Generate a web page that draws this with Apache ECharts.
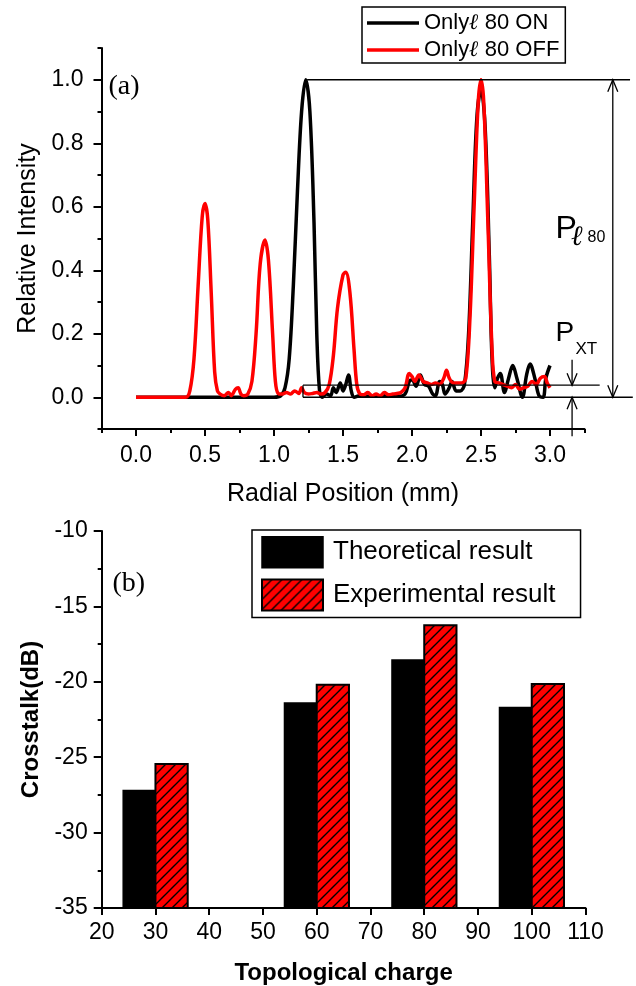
<!DOCTYPE html>
<html><head><meta charset="utf-8">
<script src="https://cdn.jsdelivr.net/npm/echarts@6/dist/echarts.min.js"></script>
<style>html,body{margin:0;padding:0;background:#fff}#c{width:636px;height:986px}</style>
</head><body><div id="c"></div>
<script>
// ---------- Panel (a) data: radial position (mm) vs relative intensity ----------
const onlyL80On = [
  [0,0],[0.5,0],[1.0,0],[1.05,0.005],[1.08,0.03],[1.11,0.12],[1.14,0.35],[1.17,0.65],[1.2,0.9],[1.23,1.0],
  [1.26,0.9],[1.29,0.55],[1.31,0.2],[1.33,0.02],[1.35,0.0],[1.38,0.01],[1.41,0.005],[1.43,0.03],[1.45,0.015],
  [1.48,0.045],[1.5,0.02],[1.52,0.04],[1.54,0.07],[1.56,0.02],[1.58,0.0],[1.62,0.005],[1.7,0.003],[1.8,0.005],
  [1.9,0.003],[1.95,0.01],[1.98,0.05],[2.0,0.055],[2.03,0.035],[2.06,0.07],[2.09,0.04],[2.12,0.035],[2.15,0.01],
  [2.17,0.005],[2.2,0.05],[2.22,0.04],[2.24,0.01],[2.27,0.03],[2.29,0.05],[2.32,0.02],[2.35,0.02],[2.38,0.04],
  [2.41,0.2],[2.44,0.55],[2.47,0.88],[2.5,0.97],[2.53,0.85],[2.56,0.45],[2.58,0.12],[2.6,0.03],[2.62,0.06],
  [2.64,0.075],[2.67,0.015],[2.7,0.06],[2.73,0.1],[2.76,0.06],[2.8,0.0],[2.83,0.07],[2.855,0.105],[2.89,0.06],
  [2.92,0.005],[2.95,0.0],[2.97,0.06],[3.0,0.1]
];
const onlyL80Off = [
  [0,0],[0.1,0],[0.2,0],[0.3,0],[0.36,0],[0.39,0.02],[0.42,0.12],[0.45,0.35],[0.48,0.57],[0.5,0.61],[0.52,0.56],
  [0.545,0.33],[0.57,0.08],[0.59,0.02],[0.61,0.01],[0.64,0.005],[0.67,0.015],[0.69,0.005],[0.72,0.025],[0.74,0.03],
  [0.76,0.01],[0.78,0.005],[0.81,0.01],[0.84,0.05],[0.87,0.2],[0.9,0.42],[0.935,0.495],[0.96,0.43],[0.99,0.2],
  [1.01,0.05],[1.03,0.012],[1.06,0.01],[1.09,0.015],[1.12,0.01],[1.15,0.02],[1.18,0.012],[1.2,0.03],[1.22,0.015],
  [1.25,0.01],[1.28,0.012],[1.31,0.015],[1.34,0.01],[1.37,0.015],[1.4,0.04],[1.43,0.13],[1.46,0.28],[1.5,0.385],
  [1.52,0.394],[1.55,0.33],[1.58,0.15],[1.6,0.04],[1.62,0.012],[1.65,0.008],[1.68,0.015],[1.71,0.005],[1.74,0.01],
  [1.77,0.005],[1.8,0.015],[1.83,0.008],[1.86,0.01],[1.89,0.012],[1.92,0.015],[1.95,0.03],[1.98,0.075],[2.0,0.065],
  [2.02,0.05],[2.05,0.07],[2.08,0.05],[2.11,0.045],[2.14,0.04],[2.17,0.045],[2.2,0.04],[2.23,0.06],[2.25,0.085],
  [2.27,0.06],[2.3,0.045],[2.33,0.045],[2.36,0.045],[2.39,0.06],[2.42,0.25],[2.45,0.6],[2.48,0.93],[2.5,1.0],
  [2.52,0.93],[2.55,0.55],[2.58,0.15],[2.6,0.05],[2.63,0.045],[2.66,0.04],[2.69,0.035],[2.72,0.03],[2.75,0.04],
  [2.78,0.025],[2.81,0.03],[2.84,0.035],[2.87,0.05],[2.9,0.04],[2.93,0.06],[2.96,0.065],[2.98,0.045],[3.0,0.03]
];
const xMajorA = [0, 0.5, 1, 1.5, 2, 2.5, 3];
const xMinorA = [-0.25, 0.25, 0.75, 1.25, 1.75, 2.25, 2.75, 3.25];
const yMajorA = [0, 0.2, 0.4, 0.6, 0.8, 1.0];
const yMinorA = [-0.1, 0.1, 0.3, 0.5, 0.7, 0.9, 1.1];
// annotation levels (data space)
const peakLevel = 1.0;
const xtLevel = 0.038;

// ---------- Panel (b) data: crosstalk vs topological charge ----------
const charges = [30, 60, 80, 100];
const theoretical = [-27.2, -21.4, -18.55, -21.7];
const experimental = [-25.45, -20.2, -16.25, -20.15];

// ---------- styling helpers ----------
const SANS = 'Liberation Sans, Arial, sans-serif';
const SERIF = 'Liberation Serif, Times New Roman, serif';
const Y2_MIN = -35, Y2_MAX = -10;
const BAR_UNITS = 6;
const LINE_ICON = 'path://M0,0L104,0L104,7L0,7Z';

function makeHatch() {
  const s = 10, c = document.createElement('canvas');
  c.width = s; c.height = s;
  const g = c.getContext('2d');
  g.fillStyle = '#ff0000'; g.fillRect(0, 0, s, s);
  g.strokeStyle = '#000'; g.lineWidth = 1.4;
  g.beginPath();
  g.moveTo(0, s); g.lineTo(s, 0);
  g.moveTo(-1, 1); g.lineTo(1, -1);
  g.moveTo(s - 1, s + 1); g.lineTo(s + 1, s - 1);
  g.stroke();
  return c;
}
const hatchFill = { image: makeHatch(), repeat: 'repeat' };

function barRenderer(side, fill, stroke, lw) {
  return function (params, api) {
    const x = api.value(0), v = api.value(1);
    const top = api.coord([x, v]);
    const base = api.coord([x, Y2_MIN]);
    const w = api.size([BAR_UNITS, 0])[0];
    const left = side < 0 ? top[0] - w : top[0];
    return {
      type: 'rect',
      shape: { x: left, y: top[1], width: w, height: base[1] - top[1] },
      style: { fill: fill, stroke: stroke, lineWidth: lw }
    };
  };
}

const axisLineStyle = { color: '#000', width: 2 };

const chart = echarts.init(document.getElementById('c'), null, { renderer: 'canvas' });
const option = {
  animation: false,
  backgroundColor: '#fff',
  grid: [
    { left: 101.5, top: 48, width: 483, height: 381 },
    { left: 101.7, top: 531, width: 483.8, height: 383 }
  ],
  legend: [
    {
      data: [
        { name: 'Only ON', icon: LINE_ICON, itemStyle: { color: '#000' } },
        { name: 'Only OFF', icon: LINE_ICON, itemStyle: { color: '#ff0000' } }
      ],
      orient: 'vertical', left: 362, top: 7,
      padding: [5, 6, 2, 5], itemGap: 5,
      itemWidth: 52, itemHeight: 22,
      borderColor: '#000', borderWidth: 1.5,
      textStyle: {
        fontFamily: SANS, fontSize: 22, color: '#000', lineHeight: 22,
        rich: { l: { fontFamily: 'DejaVu Serif', fontStyle: 'italic', fontWeight: 'bold', fontSize: 22, color: '#000' } }
      },
      formatter: function (n) { return n === 'Only ON' ? 'Only{l|ℓ} 80 ON' : 'Only{l|ℓ} 80 OFF'; }
    },
    {
      data: [
        { name: 'Theoretical result', icon: 'rect', itemStyle: { color: '#000', borderColor: '#000', borderWidth: 1.5 } },
        { name: 'Experimental result', icon: 'rect', itemStyle: { color: hatchFill, borderColor: '#000', borderWidth: 2 } }
      ],
      orient: 'vertical', left: 252, top: 530,
      padding: [6, 25, 6, 9], itemGap: 10,
      itemWidth: 61, itemHeight: 31,
      borderColor: '#000', borderWidth: 1.5,
      textStyle: { fontFamily: SANS, fontSize: 26, color: '#000', padding: [0, 0, 0, 5] }
    }
  ],
  xAxis: [
    {
      gridIndex: 0, type: 'value', min: -0.25, max: 3.25, interval: 0.25, position: 'bottom',
      name: 'Radial Position (mm)', nameLocation: 'middle', nameGap: 53,
      nameTextStyle: { fontFamily: SANS, fontSize: 25, color: '#000' },
      axisLine: { onZero: false, lineStyle: axisLineStyle },
      axisTick: { show: true, length: 7, customValues: xMajorA, lineStyle: { color: '#000', width: 2 } },
      axisLabel: { customValues: xMajorA, margin: 15, fontFamily: SANS, fontSize: 23, color: '#000',
        formatter: function (v) { return v.toFixed(1); } },
      splitLine: { show: false }
    },
    {
      gridIndex: 0, type: 'value', min: -0.25, max: 3.25, interval: 0.25, position: 'bottom',
      axisLine: { show: false, onZero: false },
      axisTick: { show: true, length: 4, customValues: xMinorA, lineStyle: { color: '#000', width: 2 } },
      axisLabel: { show: false }, splitLine: { show: false }
    },
    {
      gridIndex: 1, type: 'value', min: 20, max: 110, interval: 10, position: 'bottom',
      name: 'Topological charge', nameLocation: 'middle', nameGap: 53,
      nameTextStyle: { fontFamily: SANS, fontSize: 24, fontWeight: 'bold', color: '#000' },
      axisLine: { onZero: false, lineStyle: axisLineStyle },
      axisTick: { show: true, length: 7, lineStyle: { color: '#000', width: 2 } },
      axisLabel: { margin: 13, fontFamily: SANS, fontSize: 23, color: '#000' },
      splitLine: { show: false }
    }
  ],
  yAxis: [
    {
      gridIndex: 0, type: 'value', min: -0.1, max: 1.1, interval: 0.1, position: 'left',
      name: 'Relative Intensity', nameLocation: 'middle', nameGap: 53,
      nameTextStyle: { fontFamily: SANS, fontSize: 25, color: '#000' },
      axisLine: { onZero: false, lineStyle: axisLineStyle },
      axisTick: { show: true, length: 8, customValues: yMajorA, lineStyle: { color: '#000', width: 2 } },
      axisLabel: { customValues: yMajorA, margin: 18, fontFamily: SANS, fontSize: 23, color: '#000',
        formatter: function (v) { return v.toFixed(1); } },
      splitLine: { show: false }
    },
    {
      gridIndex: 0, type: 'value', min: -0.1, max: 1.1, interval: 0.1, position: 'left',
      axisLine: { show: false, onZero: false },
      axisTick: { show: true, length: 4, customValues: yMinorA, lineStyle: { color: '#000', width: 2 } },
      axisLabel: { show: false }, splitLine: { show: false }
    },
    {
      gridIndex: 1, type: 'value', min: Y2_MIN, max: Y2_MAX, interval: 5, position: 'left',
      name: 'Crosstalk(dB)', nameLocation: 'middle', nameGap: 55,
      nameTextStyle: { fontFamily: SANS, fontSize: 24, fontWeight: 'bold', color: '#000' },
      axisLine: { onZero: false, lineStyle: axisLineStyle },
      axisTick: { show: true, length: 8, lineStyle: { color: '#000', width: 2 } },
      minorTick: { show: true, splitNumber: 2, length: 4, lineStyle: { color: '#000', width: 2 } },
      axisLabel: { margin: 14, fontFamily: SANS, fontSize: 23, color: '#000' },
      splitLine: { show: false }, minorSplitLine: { show: false }
    }
  ],
  series: [
    {
      name: 'Only ON', type: 'line', xAxisIndex: 0, yAxisIndex: 0,
      data: onlyL80On, showSymbol: false, symbol: 'none', smooth: 0.35,
      lineStyle: { color: '#000', width: 3.5 }, itemStyle: { color: '#000' }
    },
    {
      name: 'Only OFF', type: 'line', xAxisIndex: 0, yAxisIndex: 0,
      data: onlyL80Off, showSymbol: false, symbol: 'none', smooth: 0.35,
      lineStyle: { color: '#ff0000', width: 3.5 }, itemStyle: { color: '#ff0000' }
    },
    {
      name: 'Theoretical result', type: 'custom', coordinateSystem: 'cartesian2d',
      xAxisIndex: 2, yAxisIndex: 2,
      data: charges.map(function (c, i) { return [c, theoretical[i]]; }),
      itemStyle: { color: '#000', borderColor: '#000', borderWidth: 1.5 },
      renderItem: barRenderer(-1, '#000', '#000', 1.5)
    },
    {
      name: 'Experimental result', type: 'custom', coordinateSystem: 'cartesian2d',
      xAxisIndex: 2, yAxisIndex: 2,
      data: charges.map(function (c, i) { return [c, experimental[i]]; }),
      itemStyle: { color: hatchFill, borderColor: '#000', borderWidth: 2 },
      renderItem: barRenderer(1, hatchFill, '#000', 2)
    }
  ]
};
chart.setOption(option);

// ---------- annotations for panel (a), placed through the axes ----------
function P(x, y) { return chart.convertToPixel({ gridIndex: 0 }, [x, y]); }
function seg(a, b, w) {
  return { type: 'line', shape: { x1: a[0], y1: a[1], x2: b[0], y2: b[1] }, style: { stroke: '#000', lineWidth: w || 1.3 }, z: 100 };
}
function head(tip, dir) { // dir: -1 points up, +1 points down
  return { type: 'polyline', shape: { points: [[tip[0] - 5, tip[1] - dir * 12], [tip[0], tip[1]], [tip[0] + 5, tip[1] - dir * 12]] },
    style: { stroke: '#000', lineWidth: 1.3, fill: null }, z: 100 };
}
const gEls = [];
gEls.push(seg(P(1.24, peakLevel), P(3.58, peakLevel)));
gEls.push(seg(P(1.21, xtLevel), P(3.36, xtLevel)));
gEls.push(seg(P(1.21, 0), P(3.6, 0)));
gEls.push(seg(P(1.21, 0), P(1.21, xtLevel)));
const bigTop = P(3.455, peakLevel), bigBot = P(3.455, 0);
gEls.push(seg(bigTop, bigBot));
gEls.push(head(bigTop, -1)); gEls.push(head(bigBot, 1));
const sdTop = P(3.16, 0.118), sdTip = P(3.16, xtLevel);
gEls.push(seg(sdTop, sdTip)); gEls.push(head(sdTip, 1));
const suBot = P(3.16, -0.123), suTip = P(3.16, 0);
gEls.push(seg(suBot, suTip)); gEls.push(head(suTip, -1));
function txt(x, y, s, font, align) {
  return { type: 'text', z: 100, style: { x: x, y: y, text: s, font: font, fill: '#000', textAlign: align || 'left', textVerticalAlign: 'middle' } };
}
const pl = P(3.04, 0.53);
gEls.push(txt(pl[0], pl[1], 'P', '32px ' + SANS));
gEls.push(txt(pl[0] + 16, pl[1] + 9, 'ℓ', 'italic bold 28px DejaVu Serif'));
gEls.push(txt(pl[0] + 32, pl[1] + 9, '80', '16px ' + SANS));
const px = P(3.04, 0.2);
gEls.push(txt(px[0], px[1], 'P', '28px ' + SANS));
gEls.push(txt(px[0] + 20, px[1] + 16, 'XT', '17px ' + SANS));
const la = P(-0.2, 1.0);
gEls.push(txt(la[0], la[1] + 7, '(a)', '28px ' + SERIF));
const lb = chart.convertToPixel({ gridIndex: 1 }, [22, -13.5]);
gEls.push(txt(lb[0], lb[1], '(b)', '28px ' + SERIF));
chart.setOption({ graphic: gEls });
</script></body></html>
